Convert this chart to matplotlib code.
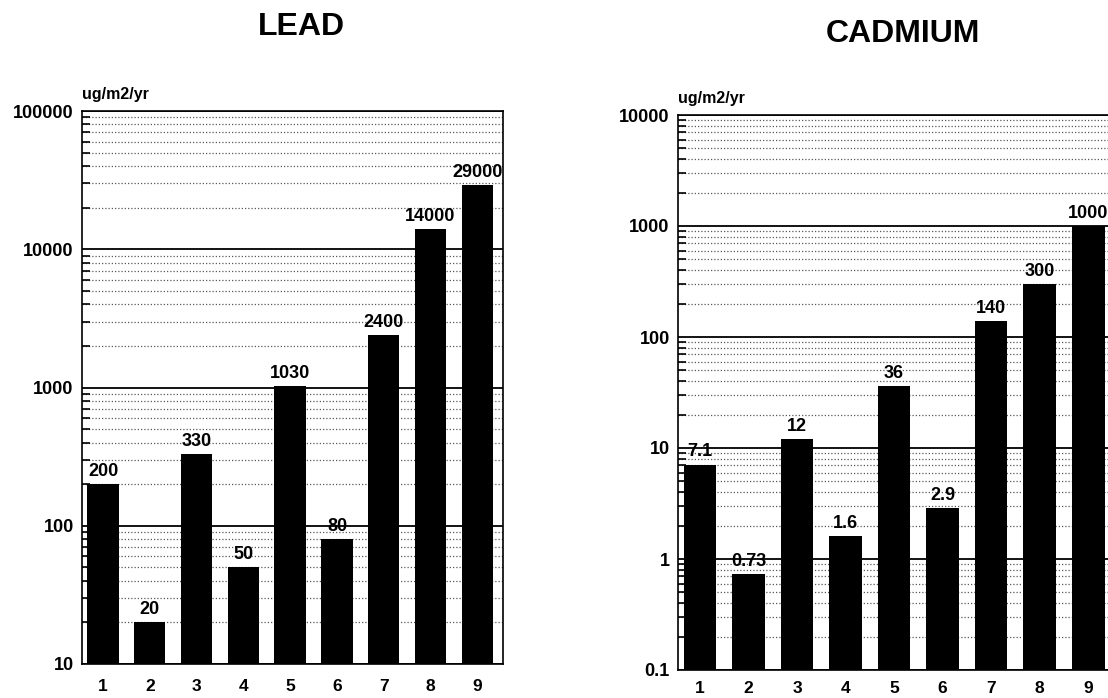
import matplotlib
matplotlib.use("Agg")
import matplotlib.pyplot as plt
from matplotlib.ticker import LogLocator, NullFormatter

plt.rcParams['font.family'] = ['Liberation Sans', 'DejaVu Sans']

categories = [1, 2, 3, 4, 5, 6, 7, 8, 9]
lead_values = [200, 20, 330, 50, 1030, 80, 2400, 14000, 29000]
lead_labels = ["200", "20", "330", "50", "1030", "80", "2400", "14000", "29000"]
cad_values = [7.1, 0.73, 12, 1.6, 36, 2.9, 140, 300, 1000]
cad_labels = ["7.1", "0.73", "12", "1.6", "36", "2.9", "140", "300", "1000"]
lead_yticks = [10, 100, 1000, 10000, 100000]
lead_yticklabels = ["10", "100", "1000", "10000", "100000"]
cad_yticks = [0.1, 1, 10, 100, 1000, 10000]
cad_yticklabels = ["0.1", "1", "10", "100", "1000", "10000"]

W, H = 1108, 698
fig = plt.figure(figsize=(W / 100, H / 100), dpi=100)


def px_axes(left, right, top, bottom):
    return fig.add_axes([left / W, 1 - bottom / H, (right - left) / W, (bottom - top) / H])


def draw(ax, values, labels, yticks, yticklabels, title, title_xy, unit_xy, xpad):
    ax.set_yscale('log')
    ax.set_ylim(yticks[0], yticks[-1])
    ax.set_xlim(0.55, 9.55)
    ax.bar(categories, values, width=0.67, color='black', zorder=3)
    for x, v, lab in zip(categories, values, labels):
        ax.annotate(lab, (x, v), xytext=(0, 3), textcoords='offset points',
                    ha='center', va='bottom', fontsize=13, fontweight='bold',
                    zorder=4, annotation_clip=False)
    ax.set_yticks(yticks)
    ax.set_yticklabels(yticklabels)
    ax.yaxis.set_minor_locator(LogLocator(base=10, subs=range(2, 10), numticks=20))
    ax.yaxis.set_minor_formatter(NullFormatter())
    ax.grid(True, which='major', axis='y', color='black', linewidth=1.3, zorder=1)
    ax.grid(True, which='minor', axis='y', color='0.35', linewidth=0.9,
            linestyle=(0, (1, 1.6)), zorder=1)
    ax.set_xticks(categories)
    ax.set_xticklabels([str(c) for c in categories])
    ax.tick_params(axis='x', length=0, pad=xpad, labelsize=12.5)
    ax.tick_params(axis='y', which='major', direction='in', length=0, pad=6, labelsize=13)
    ax.tick_params(axis='y', which='minor', direction='in', length=6, width=1.2)
    for lab in ax.get_xticklabels() + ax.get_yticklabels():
        lab.set_fontweight('bold')
    for s in ax.spines.values():
        s.set_linewidth(1.2)
        s.set_color('black')
    fig.text(title_xy[0] / W, 1 - title_xy[1] / H, title, ha='center', va='center',
             fontsize=23, fontweight='bold')
    fig.text(unit_xy[0] / W, 1 - unit_xy[1] / H, "ug/m2/yr", ha='left', va='center',
             fontsize=11.5, fontweight='bold')


ax1 = px_axes(82, 503, 111, 664)
draw(ax1, lead_values, lead_labels, lead_yticks, lead_yticklabels, "LEAD", (301, 27), (82, 95), 11)

ax2 = px_axes(678, 1115, 115, 670)
draw(ax2, cad_values, cad_labels, cad_yticks, cad_yticklabels, "CADMIUM", (903, 34), (678, 98), 8)

fig.savefig("out.png", dpi=100)
